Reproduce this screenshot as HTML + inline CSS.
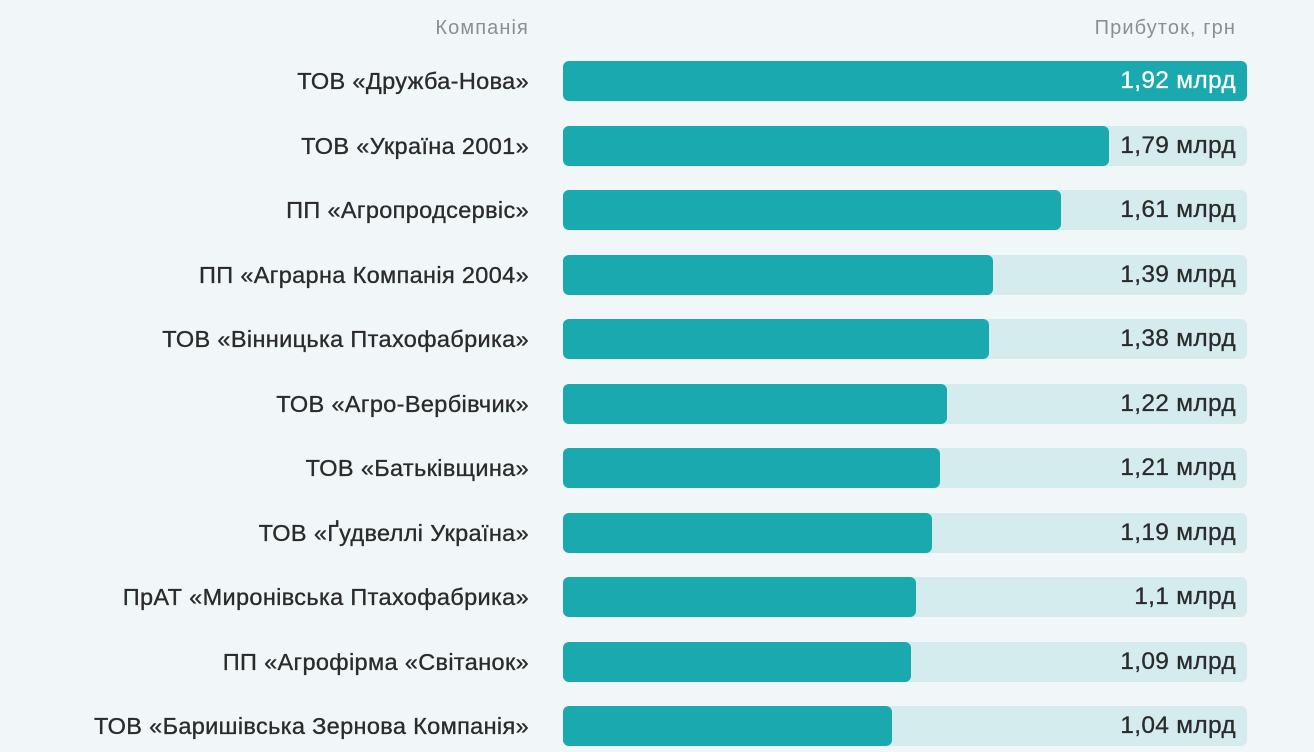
<!DOCTYPE html>
<html><head><meta charset="utf-8"><style>
body{margin:0;width:1314px;height:752px;background:#f1f6f8;font-family:"Liberation Sans","DejaVu Sans",sans-serif;position:relative;overflow:hidden}
.h{position:absolute;top:17px;font-size:20px;letter-spacing:1.1px;color:#8a8f93}
.row{position:absolute;left:0;width:1314px;height:40px}
.lab{position:absolute;right:785px;top:0;line-height:40px;font-size:23.5px;letter-spacing:0.35px;color:#2b2b2b;white-space:nowrap;-webkit-text-stroke:0.35px #2b2b2b}
.tr{position:absolute;left:563px;width:684px;top:0;height:40px;background:#d4ecee;border-radius:6px}
.b{position:absolute;left:563px;top:0;height:40px;background:#1ba9b0;border-radius:6px}
.v{position:absolute;right:78px;top:0;line-height:40px;font-size:24.5px;letter-spacing:0.3px;color:#2b2b2b;-webkit-text-stroke:0.3px currentColor}
</style></head><body>
<div class="h" style="right:785px">Компанія</div>
<div class="h" style="right:78px">Прибуток, грн</div>
<div class="row" style="top:61px"><div class="lab">ТОВ «Дружба-Нова»</div><div class="tr"></div><div class="b" style="width:684px"></div><div class="v" style="color:#fff">1,92 млрд</div></div>
<div class="row" style="top:126px"><div class="lab">ТОВ «Україна 2001»</div><div class="tr"></div><div class="b" style="width:546px"></div><div class="v">1,79 млрд</div></div>
<div class="row" style="top:190px"><div class="lab">ПП «Агропродсервіс»</div><div class="tr"></div><div class="b" style="width:498px"></div><div class="v">1,61 млрд</div></div>
<div class="row" style="top:255px"><div class="lab">ПП «Аграрна Компанія 2004»</div><div class="tr"></div><div class="b" style="width:430px"></div><div class="v">1,39 млрд</div></div>
<div class="row" style="top:319px"><div class="lab">ТОВ «Вінницька Птахофабрика»</div><div class="tr"></div><div class="b" style="width:426px"></div><div class="v">1,38 млрд</div></div>
<div class="row" style="top:384px"><div class="lab">ТОВ «Агро-Вербівчик»</div><div class="tr"></div><div class="b" style="width:384px"></div><div class="v">1,22 млрд</div></div>
<div class="row" style="top:448px"><div class="lab">ТОВ «Батьківщина»</div><div class="tr"></div><div class="b" style="width:377px"></div><div class="v">1,21 млрд</div></div>
<div class="row" style="top:513px"><div class="lab">ТОВ «Ґудвеллі Україна»</div><div class="tr"></div><div class="b" style="width:369px"></div><div class="v">1,19 млрд</div></div>
<div class="row" style="top:577px"><div class="lab">ПрАТ «Миронівська Птахофабрика»</div><div class="tr"></div><div class="b" style="width:353px"></div><div class="v">1,1 млрд</div></div>
<div class="row" style="top:642px"><div class="lab">ПП «Агрофірма «Світанок»</div><div class="tr"></div><div class="b" style="width:348px"></div><div class="v">1,09 млрд</div></div>
<div class="row" style="top:706px"><div class="lab">ТОВ «Баришівська Зернова Компанія»</div><div class="tr"></div><div class="b" style="width:329px"></div><div class="v">1,04 млрд</div></div>
</body></html>
